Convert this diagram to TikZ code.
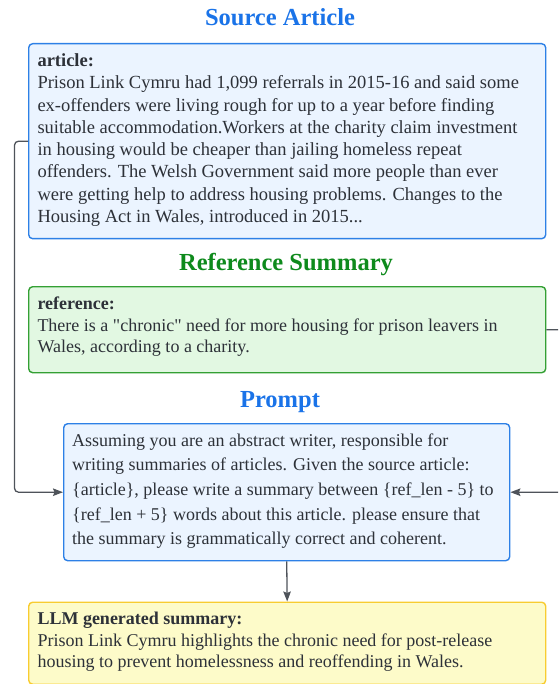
\documentclass[tikz,border=0pt]{standalone}
\usepackage{fontspec}
\setmainfont{Liberation Serif}[Ligatures=TeXOff]
\usetikzlibrary{arrows.meta}
\definecolor{titleblue}{RGB}{26,115,232}
\definecolor{titlegreen}{RGB}{14,138,28}
\definecolor{bluefill}{RGB}{235,244,255}
\definecolor{blueline}{RGB}{45,128,230}
\definecolor{greenfill}{RGB}{226,248,226}
\definecolor{greenline}{RGB}{52,160,52}
\definecolor{yellowfill}{RGB}{253,251,201}
\definecolor{yellowline}{RGB}{248,204,48}
\definecolor{bodytext}{RGB}{45,49,56}
\definecolor{connector}{RGB}{78,83,90}
\tikzset{
  boxshape/.style={draw, line width=1.4pt, rounded corners=4pt, anchor=north west, inner sep=0pt},
  bluebox/.style={boxshape, draw=blueline, fill=bluefill},
  greenbox/.style={boxshape, draw=greenline, fill=greenfill},
  yellowbox/.style={boxshape, draw=yellowline, fill=yellowfill},
  titletext/.style={anchor=base, inner sep=0pt, font=\fontsize{24.5}{28}\selectfont\bfseries},
  bodyblock/.style={anchor=base west, inner sep=0pt, align=left, text=bodytext},
  conn/.style={draw=connector, line width=1.3pt, rounded corners=4pt, -{Stealth[length=10pt,width=7.5pt,inset=1.5pt]}},
}
\begin{document}
\begin{tikzpicture}[x=1pt,y=-1pt]
\useasboundingbox (0,0) rectangle (558,684);
\clip (0,0) rectangle (558,684);

% titles
\node[titletext, text=titleblue] (t1) at (280,26) {Source Article};
\node[titletext, text=titlegreen] (t2) at (286,270.5) {Reference Summary};
\node[titletext, text=titleblue] (t3) at (280,407.5) {Prompt};

% boxes
\node[bluebox, minimum width=517pt, minimum height=195pt] (article) at (28,43) {};
\node[greenbox, minimum width=517pt, minimum height=86pt] (ref) at (28,286) {};
\node[bluebox, minimum width=446pt, minimum height=137pt] (prompt) at (63,423) {};
\node[yellowbox, minimum width=517pt, minimum height=82pt] (llm) at (28,601.5) {};

% texts (anchored at the baseline of their last line)
\node[bodyblock, font=\fontsize{18.5}{22.3}\selectfont] (articletext) at (37.3,222.6) {\textbf{article:}\\
Prison Link Cymru had 1,099 referrals in 2015-16 and said some\\
ex-offenders were living rough for up to a year before finding\\
suitable accommodation.Workers at the charity claim investment\\
in housing would be cheaper than jailing homeless repeat\\
offenders. The Welsh Government said more people than ever\\
were getting help to address housing problems. Changes to the\\
Housing Act in Wales, introduced in 2015...};

\node[bodyblock, font=\fontsize{18}{21.5}\selectfont] (reftext) at (37.3,352.5) {\textbf{reference:}\\
There is a "chronic" need for more housing for prison leavers in\\
Wales, according to a charity.};

\node[bodyblock, font=\fontsize{18}{24.7}\selectfont] (prompttext) at (72,544.8) {Assuming you are an abstract writer, responsible for\\
writing summaries of articles. Given the source article:\\
\{article\}, please write a summary between \{ref\_len - 5\} to\\
\{ref\_len + 5\} words about this article. please ensure that\\
the summary is grammatically correct and coherent.};

\node[bodyblock, font=\fontsize{18}{21.5}\selectfont] (llmtext) at (37.3,667.5) {\textbf{LLM generated summary:}\\
Prison Link Cymru highlights the chronic need for post-release\\
housing to prevent homelessness and reoffending in Wales.};

% connectors
\draw[conn] (article.west) -- ++(-13.5,0) |- (prompt.west);
\draw[conn] (ref.east) -- ++(17,0) |- (prompt.east);
\draw[conn] (prompt.south) -- (llm.north);
\end{tikzpicture}
\end{document}
